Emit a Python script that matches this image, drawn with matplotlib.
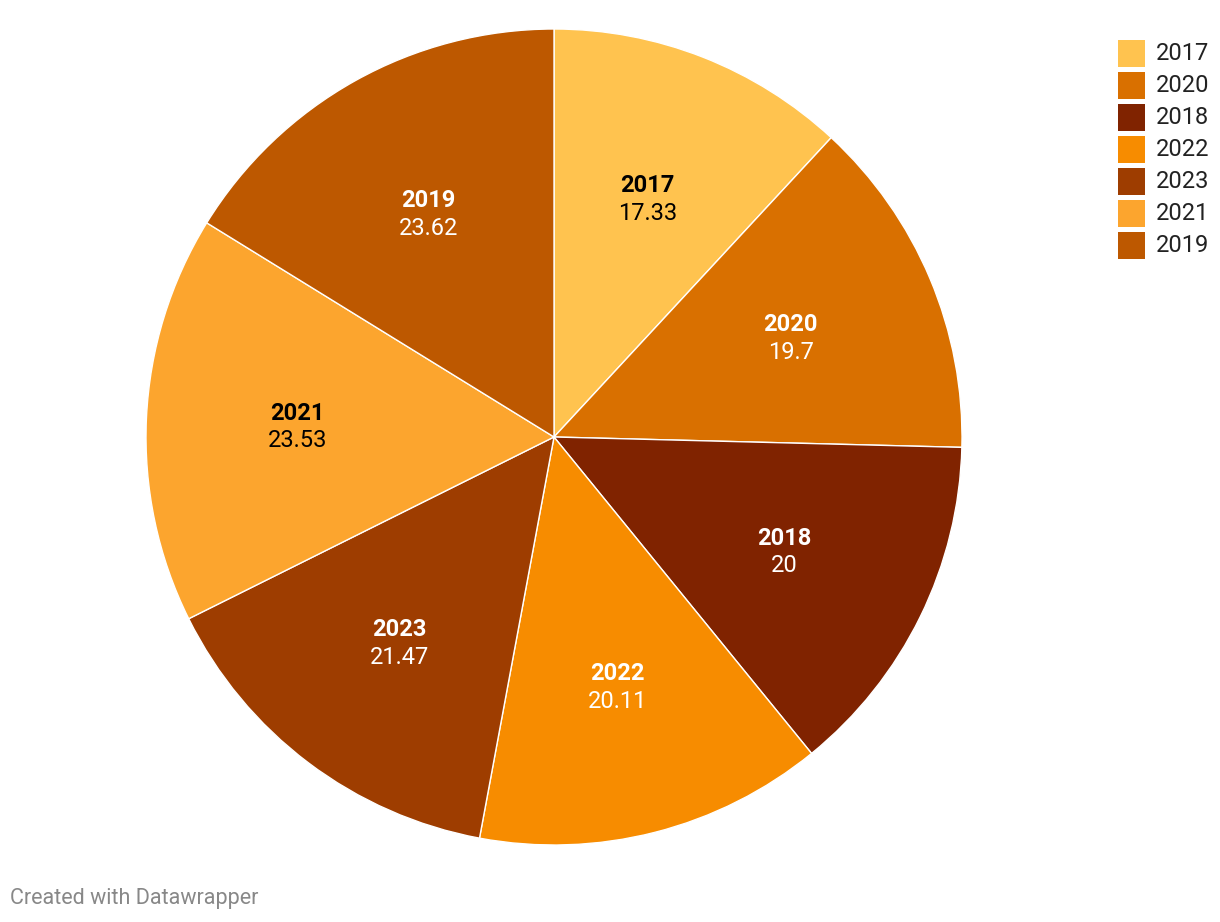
import matplotlib.pyplot as plt
from matplotlib.patches import Rectangle
import numpy as np

plt.rcParams["font.family"] = ["Roboto", "DejaVu Sans"]

# ─── Data ─────────────────────────────────────────────────────────────────────
years = ["2017", "2020", "2018", "2022", "2023", "2021", "2019"]
values = [17.33, 19.7, 20, 20.11, 21.47, 23.53, 23.62]
colors = ["#FFC34F", "#D97000", "#802300", "#F78C00", "#9E3D00", "#FCA52E", "#BD5800"]
text_colors = ["black", "white", "white", "white", "white", "black", "white"]
value_labels = ["17.33", "19.7", "20", "20.11", "21.47", "23.53", "23.62"]

W, H = 1220, 922
fig = plt.figure(figsize=(W / 100, H / 100), dpi=100)
fig.patch.set_facecolor("white")

# pie centre at (554, 437) px, radius 408 px
cx, cy, r = 554, 437, 408
ax = fig.add_axes([(cx - r) / W, (H - cy - r) / H, 2 * r / W, 2 * r / H])
wedges, _ = ax.pie(values, colors=colors, startangle=90, counterclock=False,
                   radius=1, wedgeprops=dict(edgecolor="white", linewidth=1))
ax.set_xlim(-1, 1)
ax.set_ylim(-1, 1)
ax.set_aspect("equal")
ax.axis("off")

for w, yr, val, tc in zip(wedges, years, value_labels, text_colors):
    ang = np.deg2rad((w.theta1 + w.theta2) / 2)
    x, y = 0.63 * np.cos(ang), 0.63 * np.sin(ang)
    ax.text(x, y + 0.03, yr, ha="center", va="center", fontsize=17,
            fontweight="bold", color=tc)
    ax.text(x, y - 0.038, val, ha="center", va="center", fontsize=17, color=tc)

# ─── Legend ───────────────────────────────────────────────────────────────────
for i, (yr, c) in enumerate(zip(years, colors)):
    top = 40 + i * 32
    fig.patches.append(Rectangle((1118 / W, (H - top - 27) / H), 27 / W, 27 / H,
                                 facecolor=c, edgecolor="none",
                                 transform=fig.transFigure))
    fig.text(1156 / W, (H - top - 13.5) / H, yr, ha="left", va="center",
             fontsize=17, color="#222222")

fig.text(10 / W, (H - 898) / H, "Created with Datawrapper", ha="left",
         va="center", fontsize=15.5, color="#888888")

fig.savefig("out.png", dpi=100)
